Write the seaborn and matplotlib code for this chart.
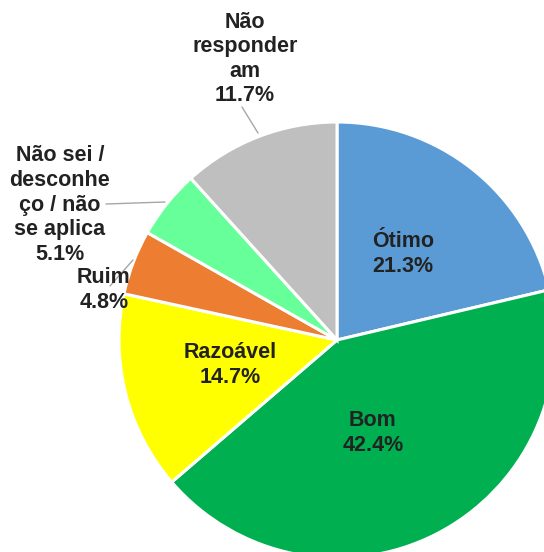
import matplotlib.pyplot as plt
import seaborn as sns

categories = ["Ótimo", "Bom", "Razoável", "Ruim",
              "Não sei /\ndesconhe\nço / não\nse aplica", "Não\nresponder\nam"]
values = [21.3, 42.4, 14.7, 4.8, 5.1, 11.7]
colors = ["#5B9BD5", "#00B050", "#FFFF00", "#ED7D31", "#66FF99", "#BFBFBF"]

sns.set_style("white")
plt.rcParams["font.family"] = ["Liberation Sans", "DejaVu Sans"]

W, H = 544, 552
fig = plt.figure(figsize=(W / 100, H / 100), dpi=100)
ax = fig.add_axes([0, 0, 1, 1])

# pie centre / radius in pixel units (y measured from the bottom)
cx, cy, r = 337, H - 340, 218
ax.pie(values, colors=colors, startangle=90, counterclock=False,
       center=(cx, cy), radius=r, frame=True,
       wedgeprops=dict(edgecolor="white", linewidth=2.2))
ax.set_xlim(0, W)
ax.set_ylim(0, H)
ax.set_aspect("equal")
ax.axis("off")

# label positions (pixel coords from top-left)
label_pos = [(403, 254), (373, 433), (230, 365), (104, 290), (60, 205), (245, 59)]
for cat, val, (x, y) in zip(categories, values, label_pos):
    ax.text(x, H - y, f"{cat}\n{val:.1f}%", ha="center", va="center",
            fontsize=15.5, fontweight="bold", color="#222222",
            linespacing=1.22, zorder=5)

# leader lines
leaders = [((242, 107), (258, 133)), ((106, 204), (165, 202)), ((133, 260), (110, 286))]
for (x0, y0), (x1, y1) in leaders:
    ax.plot([x0, x1], [H - y0, H - y1], color="#A6A6A6", lw=1, zorder=3)

fig.savefig("out.png", dpi=100)
